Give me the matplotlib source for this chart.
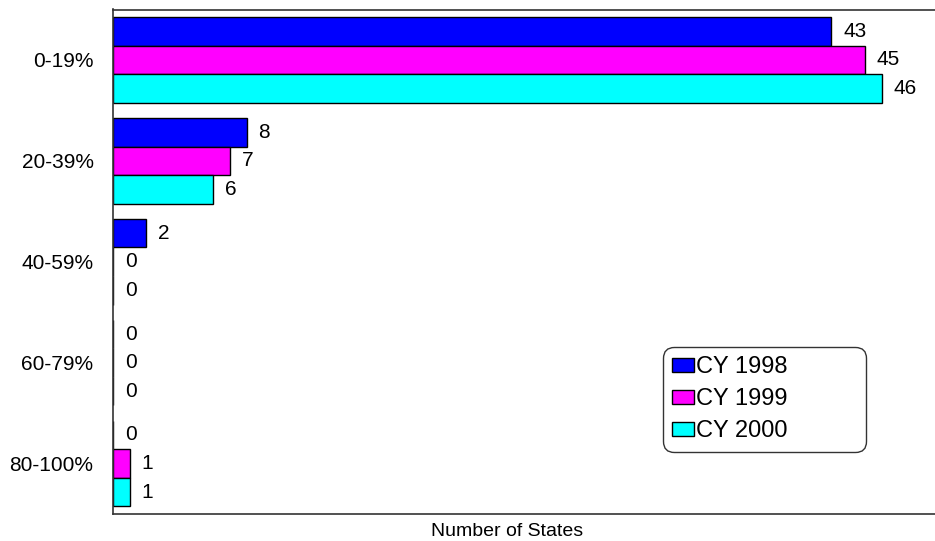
import numpy as np
import matplotlib.pyplot as plt

plt.rcParams['font.family'] = ['Liberation Sans', 'DejaVu Sans']

# Number of states per percentage band, by calendar year
bands = ['0-19%', '20-39%', '40-59%', '60-79%', '80-100%']
cy1998 = [43, 8, 2, 0, 0]
cy1999 = [45, 7, 0, 0, 1]
cy2000 = [46, 6, 0, 0, 1]

series = [('CY 1998', cy1998, '#0000ff'),
          ('CY 1999', cy1999, '#ff00ff'),
          ('CY 2000', cy2000, '#00ffff')]

fig = plt.figure(figsize=(9.35, 5.41), dpi=100)
ax_left, ax_bottom = 113 / 935, 27 / 541
ax_w, ax_h = 1 - ax_left, (514 - 9.5) / 541
ax = fig.add_axes([ax_left, ax_bottom, ax_w, ax_h])

y = np.arange(len(bands))
h = 0.283
for k, (name, vals, col) in enumerate(series):
    pos = y + (k - 1) * h
    ax.barh(pos, vals, height=h, color=col, edgecolor='black', linewidth=1.0, label=name)
    for p, v in zip(pos, vals):
        ax.annotate(str(v), (v, p), xytext=(8.5, 0), textcoords='offset points',
                    ha='left', va='center', fontsize=15)

ax.set_xlim(0, 49.2)
ax.set_ylim(len(bands) - 0.5, -0.5)
ax.set_yticks(y)
ax.set_yticklabels(bands, fontsize=15)
ax.tick_params(axis='y', length=0, pad=14)
ax.set_xticks([])
ax.spines['right'].set_visible(False)
for s in ['left', 'top', 'bottom']:
    ax.spines[s].set_color('#333333')
    ax.spines[s].set_linewidth(1.2)

# legend box spans roughly x 663-866, y 350-450 in figure pixels
lx = (663 - 935 * ax_left) / (935 * ax_w)
lw = 203 / (935 * ax_w)
ly = 1 - (352 - 9.5) / (541 * ax_h)
leg = ax.legend(loc='upper left', bbox_to_anchor=(lx, ly, lw, 0.01), mode='expand',
                bbox_transform=ax.transAxes, fontsize=17, frameon=True, fancybox=True,
                handlelength=0.93, handleheight=0.5, handletextpad=0.05, labelspacing=0.42,
                borderpad=0.4, borderaxespad=0)
leg.get_frame().set_edgecolor('black')
leg.get_frame().set_linewidth(1.0)
leg.get_frame().set_boxstyle('round,pad=0,rounding_size=0.45')

fig.text(507 / 935, 1 - 531 / 541, 'Number of States', ha='center', va='center', fontsize=14)

fig.savefig('out.png', dpi=100)
